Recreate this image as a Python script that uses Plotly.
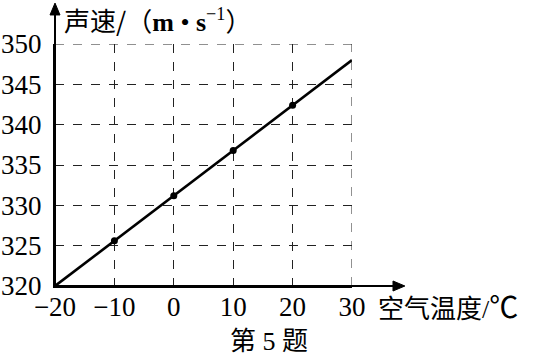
import plotly.graph_objects as go

# Data
temps = [-20, -10, 0, 10, 20, 30]
speeds = [320.0, 325.6, 331.2, 336.8, 342.4, 348.0]
marker_temps = [-10, 0, 10, 20]
marker_speeds = [325.6, 331.2, 336.8, 342.4]
x_ticks = [-20, -10, 0, 10, 20, 30]
y_ticks = [320, 325, 330, 335, 340, 345, 350]

SERIF = "Liberation Serif"

fig = go.Figure()
fig.add_trace(go.Scatter(x=temps, y=speeds, mode="lines",
                         line=dict(color="black", width=2.6), showlegend=False,
                         cliponaxis=False))
fig.add_trace(go.Scatter(x=marker_temps, y=marker_speeds, mode="markers",
                         marker=dict(color="black", size=7), showlegend=False))

def axis_common():
    return dict(showgrid=True, gridcolor="#222", griddash="dash", gridwidth=1,
                zeroline=False, showline=True, linecolor="black", linewidth=2,
                automargin=False,
                ticks="", tickfont=dict(family=SERIF, size=27, color="black"))

fig.update_xaxes(range=[-20, 30], tickvals=x_ticks, ticklabelstandoff=-4, **axis_common())
fig.update_yaxes(range=[320, 350], tickvals=y_ticks, ticklabelstandoff=6, **axis_common())

# extra dashed borders at top and right
fig.add_shape(type="line", xref="x", yref="y", x0=-20, x1=30, y0=350, y1=350,
              line=dict(color="#222", width=1, dash="dash"))
fig.add_shape(type="line", xref="x", yref="y", x0=30, x1=30, y0=320, y1=350,
              line=dict(color="#222", width=1, dash="dash"))

# axis arrows (shafts + heads)
fig.add_shape(type="line", xref="paper", yref="paper", x0=0, x1=0, y0=0, y1=1.13,
              line=dict(color="black", width=2), layer="above")
fig.add_shape(type="path", xref="paper", yref="paper",
              path="M -0.0168,1.12 L 0,1.169 L 0.0168,1.12 Z",
              fillcolor="black", line=dict(color="black", width=1), layer="above")
fig.add_shape(type="line", xref="paper", yref="paper", x0=0, x1=1.145, y0=0, y1=0,
              line=dict(color="black", width=2), layer="above")
fig.add_shape(type="path", xref="paper", yref="paper",
              path="M 1.138,0.0207 L 1.178,0 L 1.138,-0.0207 Z",
              fillcolor="black", line=dict(color="black", width=1), layer="above")

CJ = "<span style='font-family:Noto Sans CJK SC'>{}</span>"

# labels
fig.add_annotation(xref="paper", yref="paper", x=0.024, y=1.10, xanchor="left",
                   yanchor="middle", showarrow=False,
                   text=(CJ.format("声速/（") +
                         "<b>m</b> • <b>s</b><sup>−1</sup>" +
                         CJ.format("）")),
                   font=dict(family=SERIF, size=26, color="black"))
fig.add_annotation(xref="paper", yref="paper", x=1.08, y=-0.08, xanchor="left",
                   yanchor="middle", showarrow=False,
                   text=CJ.format("空气温度") + "/" +
                        "<span style='font-family:Noto Sans CJK SC;font-size:29px'>℃</span>",
                   font=dict(family=SERIF, size=26, color="black"))
fig.add_annotation(xref="paper", yref="paper", x=0.72, y=-0.215, xanchor="center",
                   yanchor="middle", showarrow=False,
                   text=CJ.format("第") + " 5 " + CJ.format("题"),
                   font=dict(family=SERIF, size=26, color="black"))

fig.update_layout(width=538, height=358,
                  margin=dict(l=55, r=186, t=44, b=72),
                  font=dict(family=SERIF, color="black"),
                  paper_bgcolor="white", plot_bgcolor="white")

fig.write_html("out.html")
